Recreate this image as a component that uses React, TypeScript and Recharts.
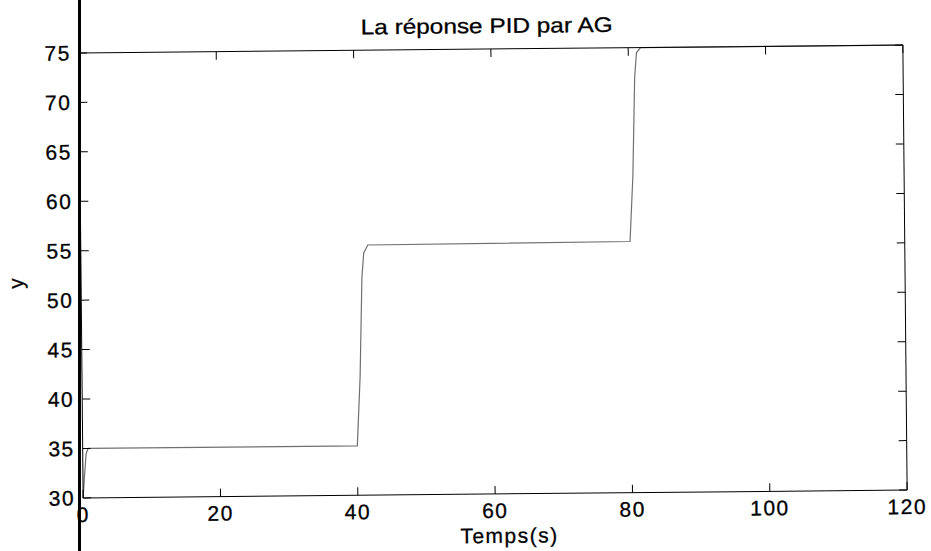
import React from 'react';
import { LineChart, Line, XAxis, YAxis } from 'recharts';

// step response (time in s, output y)
const timeS = [0, 0.2, 0.5, 0.8, 40, 40.5, 40.9, 41.2, 41.8, 80, 80.5, 80.9, 81.2, 81.8, 120];
const yResp = [30, 32, 34.5, 35, 35, 42, 52, 54.5, 55.3, 55.4, 62, 72, 74.5, 75, 75];

const xTicks = [0, 20, 40, 60, 80, 100, 120];
const yTicks = [30, 35, 40, 45, 50, 55, 60, 65, 70, 75];

const title = 'La réponse PID par AG';
const xLabel = 'Temps(s)';
const yLabel = 'y';

const data = timeS.map((t, i) => ({ t, y: yResp[i] }));

const W = 931;
const H = 551;
const font = '"Liberation Sans", Arial, Helvetica, sans-serif';
const tickStyle = { fontSize: 21, fill: '#000', stroke: '#000', strokeWidth: 0.3, fontFamily: font, letterSpacing: 1.5 };
const noLabel = () => '';

export default function App() {
  return (
    <div style={{ position: 'absolute', left: 0, top: 0, width: W, height: H, background: '#fff', overflow: 'hidden', fontFamily: font }}>
      {/* scan is slightly tilted */}
      <div style={{ position: 'absolute', left: 0, top: 0, width: W, height: H, transform: 'rotate(-0.55deg)', transformOrigin: '493px 271px' }}>
        <LineChart width={W} height={H} data={data} margin={{ top: 39, right: 16, bottom: 0, left: 0 }}>
          <XAxis xAxisId="b" dataKey="t" type="number" domain={[0, 120]} ticks={xTicks} height={57}
            stroke="#000" tickSize={-8} tickMargin={17} tick={tickStyle} interval={0} />
          <XAxis xAxisId="top" orientation="top" dataKey="t" type="number" domain={[0, 120]} ticks={xTicks} height={10}
            stroke="#000" tickSize={-8} tickFormatter={noLabel} interval={0} />
          <YAxis yAxisId="l" type="number" domain={[30, 75]} ticks={yTicks} width={81}
            stroke="#000" tickSize={-8} tickMargin={16} tick={tickStyle} interval={0} />
          <YAxis yAxisId="r" orientation="right" type="number" domain={[30, 75]} ticks={yTicks} width={10}
            stroke="#000" tickSize={-8} tickFormatter={noLabel} interval={0} />
          {/* invisible copy so the top/right box axes get drawn */}
          <Line xAxisId="top" yAxisId="r" dataKey="y" type="linear" stroke="none" dot={false}
            isAnimationActive={false} />
          <Line xAxisId="b" yAxisId="l" dataKey="y" type="linear" stroke="#707070" strokeWidth={1.2}
            dot={false} isAnimationActive={false} />
        </LineChart>

        <div style={{ position: 'absolute', left: 289, top: 15, width: 400, textAlign: 'center', fontSize: 21, lineHeight: 1, transform: 'scaleX(1.16)', color: '#000', WebkitTextStroke: '0.3px #000' }}>
          {title}
        </div>
        <div style={{ position: 'absolute', left: 407, top: 525, width: 200, textAlign: 'center', fontSize: 21, lineHeight: 1, letterSpacing: 1.5, color: '#000', WebkitTextStroke: '0.3px #000' }}>
          {xLabel}
        </div>
        <div style={{ position: 'absolute', left: -4, top: 267, width: 40, height: 24, lineHeight: '24px', textAlign: 'center', fontSize: 21, transform: 'rotate(-90deg)', color: '#000', WebkitTextStroke: '0.3px #000' }}>
          {yLabel}
        </div>
      </div>

      {/* heavy vertical pen line running down the page */}
      <div style={{ position: 'absolute', left: 78, top: 0, width: 3, height: H, background: '#000' }} />
    </div>
  );
}
